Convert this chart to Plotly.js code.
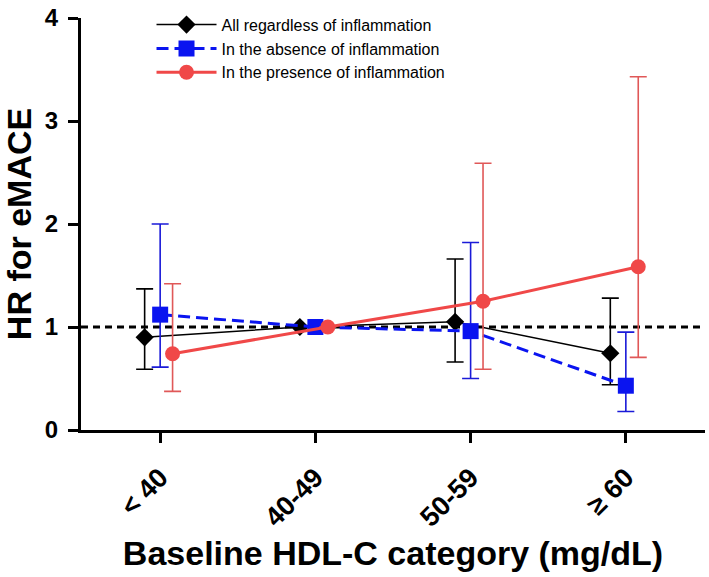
<!DOCTYPE html>
<html>
<head>
<meta charset="utf-8">
<script src="https://cdn.plot.ly/plotly-3.0.1.min.js"></script>
<style>html,body{margin:0;padding:0;background:#fff;}#chart{width:709px;height:577px;}</style>
</head>
<body>
<div id="chart"></div>
<script>
// Categories (x axis tick labels)
const categories = ['< 40', '40-49', '50-59', '\u2265 60'];

// All regardless of inflammation
const allHR   = [0.90, 1.00, 1.05, 0.745];
const allLow  = [0.59, null, 0.66, 0.44];
const allHigh = [1.37, null, 1.66, 1.28];

// In the absence of inflammation
const absHR   = [1.12, 1.00, 0.96, 0.43];
const absLow  = [0.61, null, 0.50, 0.18];
const absHigh = [2.00, null, 1.82, 0.95];

// In the presence of inflammation
const preHR   = [0.74, 1.00, 1.25, 1.585];
const preLow  = [0.375, null, 0.59, 0.705];
const preHigh = [1.42, null, 2.59, 3.43];

const seriesNames = ['All regardless of inflammation', 'In the absence of inflammation', 'In the presence of inflammation'];
const referenceHR = 1;

// layout helpers (not data)
const offsets = [-0.1, 0, 0.08];
const FONT = 'Arial, "Liberation Sans", sans-serif';

function makeTrace(hr, lo, hi, k, color, errColor, symbol, size, lineStyle) {
  const idx = categories.map((c, i) => i);
  return {
    type: 'scatter',
    mode: 'lines+markers',
    name: seriesNames[k],
    x: idx.map(i => i + offsets[k]),
    y: hr,
    line: Object.assign({color: color}, lineStyle),
    marker: {symbol: symbol, size: size, color: color},
    error_y: {
      type: 'data', symmetric: false,
      array: hr.map((v, i) => hi[i] == null ? null : hi[i] - v),
      arrayminus: hr.map((v, i) => lo[i] == null ? null : v - lo[i]),
      color: errColor, thickness: 1.6, width: 8.5
    },
    cliponaxis: false
  };
}

const traces = [
  makeTrace(allHR, allLow, allHigh, 0, '#000000', '#000000', 'diamond', 14, {width: 1.5}),
  makeTrace(absHR, absLow, absHigh, 1, '#0a14f0', '#1a1ad8', 'square', 16, {width: 3, dash: '12px,6px'}),
  makeTrace(preHR, preLow, preHigh, 2, '#f04848', '#e05858', 'circle', 15, {width: 3})
];

const layout = {
  width: 709, height: 577,
  margin: {l: 81, r: 4, t: 18, b: 147},
  paper_bgcolor: '#ffffff', plot_bgcolor: '#ffffff',
  font: {family: FONT, color: '#000'},
  showlegend: true,
  legend: {
    x: 0.113, y: 1.025, xanchor: 'left', yanchor: 'top',
    bgcolor: 'rgba(255,255,255,0)', borderwidth: 0,
    font: {family: FONT, size: 16, color: '#000'},
    itemwidth: 60, tracegroupgap: 0
  },
  xaxis: {
    range: [-0.51, 3.51],
    tickmode: 'array', tickvals: categories.map((c, i) => i), ticktext: categories,
    tickangle: -45,
    tickfont: {family: FONT, size: 27, color: '#000', weight: 'bold'},
    ticks: 'outside', ticklen: 10, tickwidth: 3, tickcolor: '#000',
    ticklabelstandoff: 8,
    showline: true, linewidth: 3, linecolor: '#000',
    showgrid: false, zeroline: false,
    title: {text: 'Baseline HDL-C category (mg/dL)', font: {family: FONT, size: 34, color: '#000', weight: 'bold'}, standoff: 10}
  },
  yaxis: {
    range: [0, 4],
    tickvals: [0, 1, 2, 3, 4],
    tickfont: {family: FONT, size: 24, color: '#000', weight: 'bold'},
    ticks: 'outside', ticklen: 10, tickwidth: 3, tickcolor: '#000',
    ticklabelstandoff: 5,
    showline: true, linewidth: 3, linecolor: '#000',
    showgrid: false, zeroline: false,
    title: {text: 'HR for eMACE', font: {family: FONT, size: 34, color: '#000', weight: 'bold'}, standoff: 9}
  },
  shapes: [{
    type: 'line', xref: 'paper', yref: 'y', x0: 0, x1: 1, y0: referenceHR, y1: referenceHR,
    line: {color: '#000', width: 3, dash: '7px,5px'}, layer: 'below'
  }]
};

Plotly.newPlot('chart', traces, layout, {displayModeBar: false, staticPlot: true});
</script>
</body>
</html>
